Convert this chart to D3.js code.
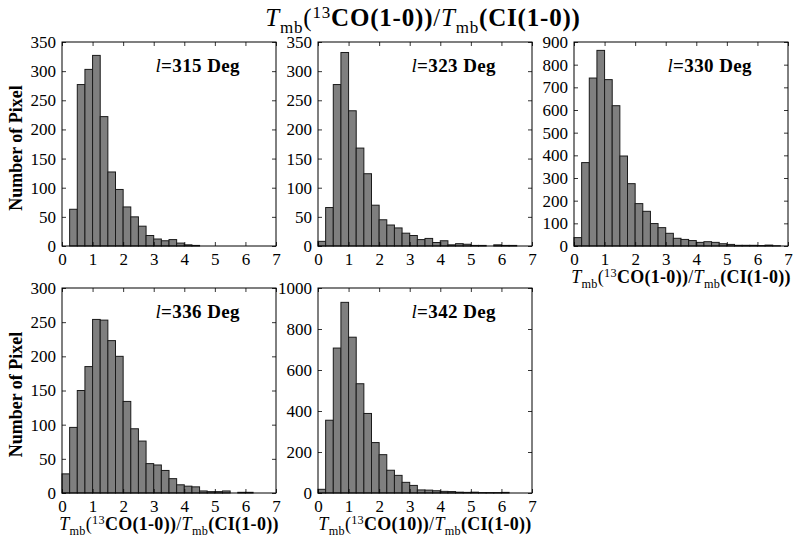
<!DOCTYPE html>
<html>
<head>
<meta charset="utf-8">
<script src="https://cdn.jsdelivr.net/npm/d3@7"></script>
<style>
  body { margin: 0; background: #fff; }
  text { font-family: "Liberation Serif", "DejaVu Serif", serif; fill: #000; }
</style>
</head>
<body>
<div id="chart"></div>
<script>
// bin left edges (bin width 0.25)
const binLefts = [0, 0.25, 0.5, 0.75, 1, 1.25, 1.5, 1.75, 2, 2.25, 2.5, 2.75, 3, 3.25,
    3.5, 3.75, 4, 4.25, 4.5, 4.75, 5, 5.25, 5.5, 5.75, 6, 6.25, 6.5, 6.75];
const binWidth = 0.25;

// pixel counts per bin
const counts315 = [0, 63, 277, 303, 327, 222, 127, 97, 67, 50, 34, 18, 12, 9, 11, 5, 2, 1];
const counts323 = [8, 66, 277, 332, 232, 168, 124, 70, 45, 36, 31, 22, 18, 11, 13, 6, 9, 2,
    4, 3, 1, 1, 0, 2, 1, 1, 0];
const counts330 = [37, 368, 741, 863, 734, 619, 397, 275, 187, 153, 99, 81, 56, 34, 29, 24,
    16, 19, 16, 10, 7, 3, 3, 3, 2, 4, 1];
const counts336 = [28, 96, 150, 185, 254, 253, 223, 200, 134, 94, 76, 43, 41, 33, 21, 12,
    10, 9, 3, 2, 2, 3, 0, 1, 1, 0];
const counts342 = [18, 355, 707, 930, 760, 533, 388, 246, 187, 111, 86, 52, 37, 15, 14, 11,
    8, 7, 4, 3, 4, 2, 2, 2, 3, 0];

const xTicks = [0, 1, 2, 3, 4, 5, 6, 7];
const yTicks300 = [0, 50, 100, 150, 200, 250, 300];
const yTicks350 = [0, 50, 100, 150, 200, 250, 300, 350];
const yTicks900 = [0, 100, 200, 300, 400, 500, 600, 700, 800, 900];
const yTicks1000 = [0, 200, 400, 600, 800, 1000];

const labelMain = ["CO(1-0))", "(CI(1-0))"];
const label342 = ["CO(10))", "(CI(1-0))"];

const panels = [
    {left: 62, top: 42, w: 214, h: 204, ymax: 350, yticks: yTicks350, counts: counts315,
        name: "315", xlabel: null, ylabel: true},
    {left: 318, top: 42, w: 214, h: 204, ymax: 350, yticks: yTicks350, counts: counts323,
        name: "323", xlabel: null, ylabel: false},
    {left: 574, top: 42, w: 214, h: 204, ymax: 900, yticks: yTicks900, counts: counts330,
        name: "330", xlabel: labelMain, ylabel: false},
    {left: 62, top: 288, w: 214, h: 205, ymax: 300, yticks: yTicks300, counts: counts336,
        name: "336", xlabel: labelMain, ylabel: true},
    {left: 318, top: 288, w: 214, h: 205, ymax: 1000, yticks: yTicks1000, counts: counts342,
        name: "342", xlabel: label342, ylabel: false}
];

const W = 795, H = 537;
const svg = d3.select("#chart").append("svg")
    .attr("width", W)
    .attr("height", H);

// writes T_mb(13 XXX)/T_mb(YYY) into a text element
function ratioLabel(sel, size, parts) {
    let sub = size * 0.68, shift = size * 0.26, sup = size * 0.34;
    sel.append("tspan").attr("font-style", "italic").text("T");
    sel.append("tspan").attr("font-size", sub).attr("dy", shift).text("mb");
    sel.append("tspan").attr("dy", -shift).text("(");
    sel.append("tspan").attr("font-size", sub).attr("dy", -sup).text("13");
    sel.append("tspan").attr("font-weight", "bold").attr("dy", sup).text(parts[0]);
    sel.append("tspan").text("/");
    sel.append("tspan").attr("font-style", "italic").text("T");
    sel.append("tspan").attr("font-size", sub).attr("dy", shift).text("mb");
    sel.append("tspan").attr("font-weight", "bold").attr("dy", -shift).text(parts[1]);
}

// figure title
let title = svg.append("text")
    .attr("x", 423)
    .attr("y", 26)
    .attr("text-anchor", "middle")
    .attr("letter-spacing", 0.8)
    .attr("font-size", 25);
ratioLabel(title, 25, labelMain);

panels.forEach(p => {
    let g = svg.append("g")
        .attr("transform", "translate(" + p.left + "," + p.top + ")");

    let x = d3.scaleLinear().domain([0, 7]).range([0, p.w]);
    let y = d3.scaleLinear().domain([0, p.ymax]).range([p.h, 0]);

    // bars
    g.selectAll("rect.bar")
        .data(p.counts.map((c, i) => ({x0: binLefts[i], n: c})).filter(d => d.n > 0))
        .enter()
        .append("rect")
        .attr("class", "bar")
        .attr("x", d => x(d.x0))
        .attr("y", d => y(d.n))
        .attr("width", x(binWidth) - x(0))
        .attr("height", d => y(0) - y(d.n))
        .attr("fill", "#7f7f7f")
        .attr("stroke", "#1a1a1a")
        .attr("stroke-width", 1);

    // ticks pointing inward on all four sides
    let tickLen = 4;
    let fmt = d3.format("d");
    let xb = d3.axisBottom(x).tickValues(xTicks).tickFormat(fmt)
        .tickSizeInner(-tickLen).tickSizeOuter(0).tickPadding(7);
    let xt = d3.axisTop(x).tickValues(xTicks).tickSizeInner(-tickLen).tickSizeOuter(0).tickFormat("");
    let yl = d3.axisLeft(y).tickValues(p.yticks).tickFormat(fmt)
        .tickSizeInner(-tickLen).tickSizeOuter(0).tickPadding(6);
    let yr = d3.axisRight(y).tickValues(p.yticks).tickSizeInner(-tickLen).tickSizeOuter(0).tickFormat("");

    let gxb = g.append("g").attr("transform", "translate(0," + p.h + ")").call(xb);
    g.append("g").call(xt);
    let gyl = g.append("g").call(yl);
    g.append("g").attr("transform", "translate(" + p.w + ",0)").call(yr);

    g.selectAll(".domain").remove();
    g.selectAll(".tick line").attr("stroke", "#000").attr("stroke-width", 0.8);
    gxb.selectAll("text")
        .attr("font-family", "Liberation Serif")
        .attr("font-size", 17)
        .attr("fill", "#000");
    gyl.selectAll("text")
        .attr("font-family", "Liberation Serif")
        .attr("font-size", 17)
        .attr("fill", "#000");

    // frame
    g.append("rect")
        .attr("width", p.w)
        .attr("height", p.h)
        .attr("fill", "none")
        .attr("stroke", "#000")
        .attr("stroke-width", 1);

    // longitude annotation
    let ann = g.append("text")
        .attr("x", p.w - 36)
        .attr("y", 30)
        .attr("text-anchor", "end")
        .attr("letter-spacing", 0.4)
        .attr("font-size", 19);
    ann.append("tspan").attr("font-style", "italic").text("l");
    ann.append("tspan").attr("font-weight", "bold").text("=" + p.name + " Deg");

    if (p.xlabel) {
        let xl = g.append("text")
            .attr("x", p.w / 2)
            .attr("y", p.h + 37)
            .attr("text-anchor", "middle")
            .attr("letter-spacing", 0.3)
            .attr("font-size", 18);
        ratioLabel(xl, 18, p.xlabel);
    }

    if (p.ylabel) {
        g.append("text")
            .attr("transform", "translate(-40," + (p.h / 2 + 4) + ") rotate(-90)")
            .attr("text-anchor", "middle")
            .attr("font-size", 18)
            .attr("font-weight", "bold")
            .text("Number of Pixel");
    }
});
</script>
</body>
</html>
